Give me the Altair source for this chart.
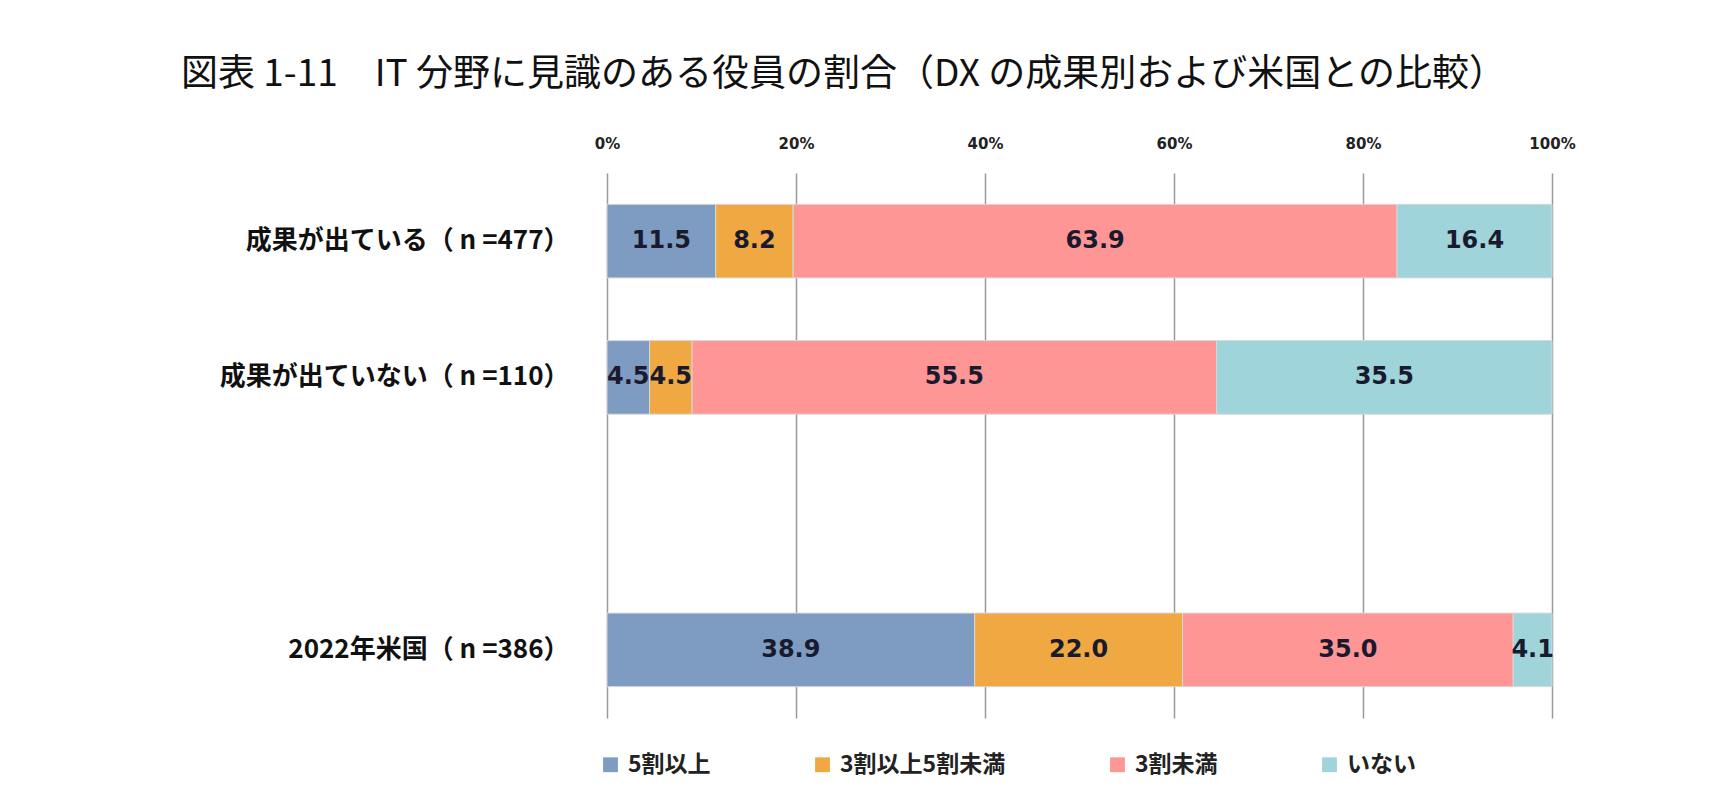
import altair as alt
import pandas as pd

# rows of the chart (the blank one is the gap before the US row)
categories = ["成果が出ている（ n =477）", "成果が出ていない（ n =110）", " ", "2022年米国（ n =386）"]
series = ["5割以上", "3割以上5割未満", "3割未満", "いない"]
colors = ["#7E9CC2", "#F0A843", "#FF9696", "#9FD4DA"]

v_5plus = [11.5, 4.5, 38.9]
v_3to5 = [8.2, 4.5, 22.0]
v_under3 = [63.9, 55.5, 35.0]
v_none = [16.4, 35.5, 4.1]

title = "図表 1-11　IT 分野に見識のある役員の割合（DX の成果別および米国との比較）"

rows = []
data_rows = [categories[0], categories[1], categories[3]]
for i, cat in enumerate(data_rows):
    for j, vals in enumerate([v_5plus, v_3to5, v_under3, v_none]):
        rows.append({"group": cat, "series": series[j], "order": j,
                     "value": vals[i], "label": f"{vals[i]:.1f}"})
df = pd.DataFrame(rows)

base = alt.Chart(df).transform_stack(
    stack="value", as_=["v0", "v1"], groupby=["group"],
    sort=[alt.SortField("order", order="ascending")]
).transform_calculate(
    mid="(datum.v0 + datum.v1) / 2"
)

y_enc = alt.Y(
    "group:N", title=None,
    scale=alt.Scale(domain=categories, paddingInner=0.46, paddingOuter=0.23),
    axis=alt.Axis(domain=False, ticks=False, labelPadding=38, labelLimit=0,
                  labelFontSize=26, labelFontWeight="bold",
                  labelFont="Noto Sans CJK JP", labelColor="#111111")
)

bars = base.mark_bar(stroke="#d8d8d8", strokeWidth=1).encode(
    x=alt.X("v0:Q", title=None,
            scale=alt.Scale(domain=[0, 100], nice=False),
            axis=alt.Axis(orient="top", values=[0, 20, 40, 60, 80, 100],
                          labelExpr="datum.value + '%'", domain=False,
                          ticks=False, labelPadding=22, labelFontSize=15,
                          labelFlush=False,
                          labelFont="DejaVu Sans", labelFontWeight="bold",
                          labelColor="#222222", gridColor="#9a9a9a",
                          gridWidth=1.5)),
    x2="v1:Q",
    y=y_enc,
    color=alt.Color(
        "series:N",
        scale=alt.Scale(domain=series, range=colors),
        legend=alt.Legend(title=None, orient="none", direction="horizontal",
                          legendX=-8, legendY=580, symbolType="square",
                          symbolSize=220, symbolStrokeWidth=0,
                          labelFontSize=23, labelFontWeight="bold",
                          labelFont="Noto Sans CJK JP", labelColor="#222222",
                          columnPadding=100, labelOffset=6, labelLimit=0)
    ),
)

labels = base.mark_text(font="DejaVu Sans", fontSize=24, fontWeight="bold",
                        color="#1a1a2e").encode(
    x="mid:Q",
    y=alt.Y("group:N", scale=alt.Scale(domain=categories)),
    text="label:N",
)

chart = alt.layer(bars, labels).properties(
    width=945,
    height=545,
    autosize=alt.AutoSizeParams(type="none"),
    padding={"left": 599, "top": 165, "right": 160, "bottom": 82},
    title=alt.TitleParams(title, anchor="start", frame="group", dx=-426,
                          offset=42, fontSize=37, fontWeight="normal",
                          font="Noto Sans CJK JP", color="#111111"),
).configure_view(stroke=None)

chart.save("out.html", embed_options={"renderer": "svg", "actions": False})
